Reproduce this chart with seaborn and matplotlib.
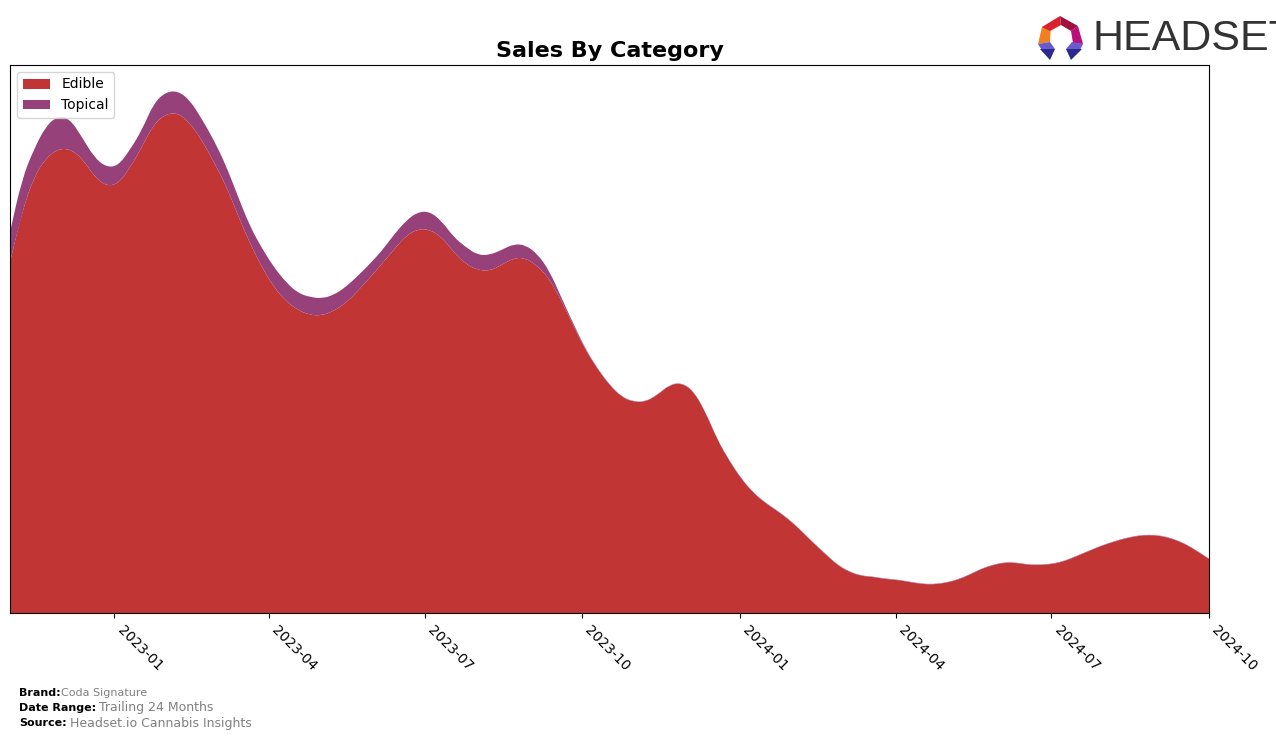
import numpy as np
import pandas as pd
import matplotlib
matplotlib.use("Agg")
import matplotlib.pyplot as plt
import matplotlib.dates as mdates
from matplotlib.patches import Patch, Polygon, PathPatch
from matplotlib.path import Path
import seaborn as sns
import seaborn.objects as so

W, H = 1276, 739
categories = ["Edible", "Topical"]
start_date = "2022-11-01"
period_count = 101
tick_dates = ["2023-01-01", "2023-04-01", "2023-07-01", "2023-10-01",
              "2024-01-01", "2024-04-01", "2024-07-01", "2024-10-01"]
edible = [351, 401, 436, 455, 464, 464, 455, 437, 427, 429, 445, 466, 489, 499, 500, 490, 473,
          451, 428, 398, 370, 346, 326, 312, 303, 298, 297.5, 302, 310, 322, 335, 349, 363, 377,
          384, 383.5, 376, 361, 349, 343, 342, 348, 355, 355, 347, 334, 312, 287, 263, 244, 228,
          216, 211, 211, 218, 228, 230, 222, 201, 173, 152, 134, 120, 110, 102, 93, 82, 70, 59,
          48, 41, 37, 36, 34, 33, 31, 29, 28.5, 30, 33, 38, 44, 48, 50.5, 50, 48, 48, 49, 52, 57,
          62, 67, 71, 74.5, 77, 78, 77, 74, 69, 62, 54]
topical = [30, 33, 28, 32, 33, 30, 21, 19, 19, 18, 18, 17, 21, 22, 22, 23, 21,
           22, 20, 19, 17, 19, 20, 19, 17, 18, 17, 16, 16, 15, 14, 13, 15, 15,
           17, 18, 16, 15, 17, 15, 16, 15, 14, 13, 12, 8, 3, 2, 1, 0.6, 0.4,
           0.4, 0.4, 0.4, 0.4, 0.4, 0.4, 0.4, 0.4, 0.4, 0.4, 0.4, 0.4, 0.4, 0.4, 0.4, 0.4, 0.4, 0.4,
           0.4, 0.4, 0.4, 0.4, 0.4, 0.4, 0.4, 0.4, 0.4, 0.4, 0.4, 0.4, 0.4, 0.4, 0.4, 0.4, 0.4, 0.4, 0.4, 0.4, 0.4,
           0.4, 0.4, 0.4, 0.4, 0.4, 0.4, 0.4, 0.4, 0.4, 0.4, 0.4]
colors = ["#c13534", "#96417a"]

dates = pd.date_range(start_date, periods=period_count, freq="7D")
df = pd.DataFrame({
    "date": np.tile(dates, 2),
    "sales": edible + topical,
    "category": np.repeat(categories, period_count),
})

sns.set_theme(style="ticks", rc={"axes.grid": False})
plt.rcParams["font.family"] = ["DejaVu Sans"]

fig = plt.figure(figsize=(W / 100, H / 100), dpi=100)
ax = fig.add_axes([10 / W, 1 - 613 / H, (1209 - 10) / W, (613 - 65) / H])

(
    so.Plot(df, x="date", y="sales", color="category")
    .add(so.Area(alpha=1, edgewidth=0), so.Stack(), legend=False)
    .scale(color=so.Nominal(dict(zip(categories, colors))))
    .on(ax)
    .plot()
)


def curved_run(pts):
    """Path pieces that round the corners of a polyline, with the read values as control points."""
    v, c = [pts[0]], [Path.LINETO]
    for i in range(1, len(pts) - 1):
        v += [pts[i], (pts[i] + pts[i + 1]) / 2]
        c += [Path.CURVE3, Path.CURVE3]
    v.append(pts[-1])
    c.append(Path.LINETO)
    return v, c


# Round the stacked outlines that seaborn produced, as the reference's curves are smooth.
for patch in list(ax.patches):
    xy = patch.get_xy()
    if np.allclose(xy[0], xy[-1]):
        xy = xy[:-1]
    n = len(xy) // 2
    v1, c1 = curved_run(xy[:n])
    v2, c2 = curved_run(xy[n:])
    verts = v1 + v2 + [xy[0]]
    codes = c1 + c2 + [Path.CLOSEPOLY]
    codes[0] = Path.MOVETO
    curved = PathPatch(Path(np.array(verts), codes), facecolor=patch.get_facecolor(),
                       edgecolor="none", linewidth=0, zorder=patch.get_zorder())
    patch.remove()
    ax.add_patch(curved)

ax.set_xlim(pd.Timestamp(start_date), dates[-1])
ax.set_ylim(0, 548)
ax.set_xlabel("")
ax.set_ylabel("")
ax.set_yticks([])
ax.set_xticks([pd.Timestamp(d) for d in tick_dates])
ax.xaxis.set_major_formatter(mdates.DateFormatter("%Y-%m"))
ax.tick_params(axis="x", length=3.5, width=0.8, color="black", labelsize=10, labelcolor="black", pad=3.5)
plt.setp(ax.get_xticklabels(), rotation=-45, ha="left", rotation_mode="default")
for s in ax.spines.values():
    s.set_visible(True)
    s.set_color("black")
    s.set_linewidth(0.8)
ax.set_title("Sales By Category", fontsize=16, fontweight="bold", color="black", pad=6)

ax.legend(handles=[Patch(facecolor=c, edgecolor="none", label=n) for c, n in zip(colors, categories)],
          loc="upper left", fontsize=10, frameon=True, framealpha=0.8, labelcolor="black")


def ftext(px, py, s, **kw):
    fig.text(px / W, 1 - py / H, s, va="center", ha="left", **kw)


ftext(19, 692.5, "Brand:", fontsize=8, fontweight="bold", color="black")
ftext(61, 692.5, "Coda Signature", fontsize=8, color="gray")
ftext(19, 708, "Date Range:", fontsize=8, fontweight="bold", color="black")
ftext(99, 708, "Trailing 24 Months", fontsize=9, color="gray")
ftext(19, 723.5, "Source:", fontsize=8, fontweight="bold", color="black")
ftext(70, 723.5, "Headset.io Cannabis Insights", fontsize=9, color="gray")

logo = [
    ([(1038, 44), (1042, 27), (1051, 24), (1050, 42)], "#f08020"),
    ([(1042, 27), (1060, 16), (1061, 25), (1050, 31)], "#d8232f"),
    ([(1060, 16), (1078, 26), (1071, 31), (1061, 25)], "#a01040"),
    ([(1078, 26), (1083, 44), (1073, 43), (1071, 31)], "#b80f7a"),
    ([(1038, 44), (1050, 42), (1055, 49), (1043, 52)], "#6a5acd"),
    ([(1040, 49), (1055, 49), (1050, 60)], "#2a2a8a"),
    ([(1083, 44), (1072, 42), (1066, 49), (1079, 52)], "#6a5acd"),
    ([(1082, 49), (1066, 49), (1071, 60)], "#2a2a8a"),
]
for pts, c in logo:
    fig.add_artist(Polygon([(x / W, 1 - y / H) for x, y in pts], closed=True, facecolor=c,
                           edgecolor="none", transform=fig.transFigure))
fig.text(1092 / W, 1 - 39 / H, "HEADSET", fontsize=31, color="#333333", va="center", ha="left",
         family=["Liberation Sans Narrow", "Liberation Sans"])

fig.savefig("out.png", dpi=100)
